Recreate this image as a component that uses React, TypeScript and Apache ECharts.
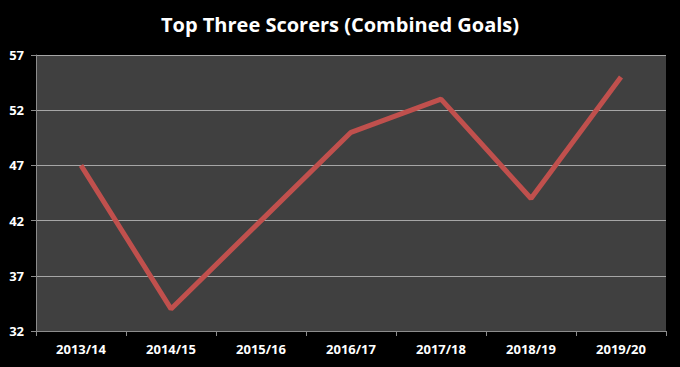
import React, { useEffect, useRef } from "react";
import * as echarts from "echarts";

const seasons = ["2013/14", "2014/15", "2015/16", "2016/17", "2017/18", "2018/19", "2019/20"];
const goals = [47, 34, 42, 50, 53, 44, 55];
const yMin = 32;
const yMax = 57;
const yStep = 5;

export default function App() {
  const ref = useRef<HTMLDivElement>(null);
  useEffect(() => {
    document.body.style.margin = "0";
    document.body.style.background = "#000000";
    const chart = echarts.init(ref.current!, undefined, { renderer: "svg" });
    chart.setOption({
      animation: false,
      backgroundColor: "#000000",
      title: {
        text: "Top Three Scorers (Combined Goals)",
        left: "center",
        top: 9,
        textStyle: { color: "#ffffff", fontSize: 20, fontWeight: "bold", fontFamily: "Open Sans" },
      },
      grid: {
        left: 36,
        right: 14,
        top: 55,
        bottom: 36,
        show: true,
        backgroundColor: "#404040",
        borderWidth: 0,
      },
      xAxis: {
        type: "category",
        data: seasons,
        boundaryGap: true,
        axisLine: { lineStyle: { color: "#8c8c8c", width: 1 } },
        axisTick: { show: true, alignWithLabel: false, length: 5, lineStyle: { color: "#8c8c8c" } },
        axisLabel: { color: "#ffffff", fontWeight: "bold", fontSize: 13, fontFamily: "Open Sans", margin: 11 },
      },
      yAxis: {
        type: "value",
        min: yMin,
        max: yMax,
        interval: yStep,
        axisLine: { show: true, lineStyle: { color: "#8c8c8c", width: 1 } },
        axisTick: { show: true, length: 5, lineStyle: { color: "#8c8c8c" } },
        splitLine: { show: true, lineStyle: { color: "#a6a6a6", width: 1 } },
        axisLabel: { color: "#ffffff", fontWeight: "bold", fontSize: 13, fontFamily: "Open Sans", margin: 12 },
      },
      series: [
        {
          type: "line",
          data: goals,
          symbol: "none",
          lineStyle: { color: "#c0504d", width: 5 },
          itemStyle: { color: "#c0504d" },
        },
      ],
    });
    return () => chart.dispose();
  }, []);
  return <div ref={ref} style={{ width: 680, height: 367 }} />;
}
